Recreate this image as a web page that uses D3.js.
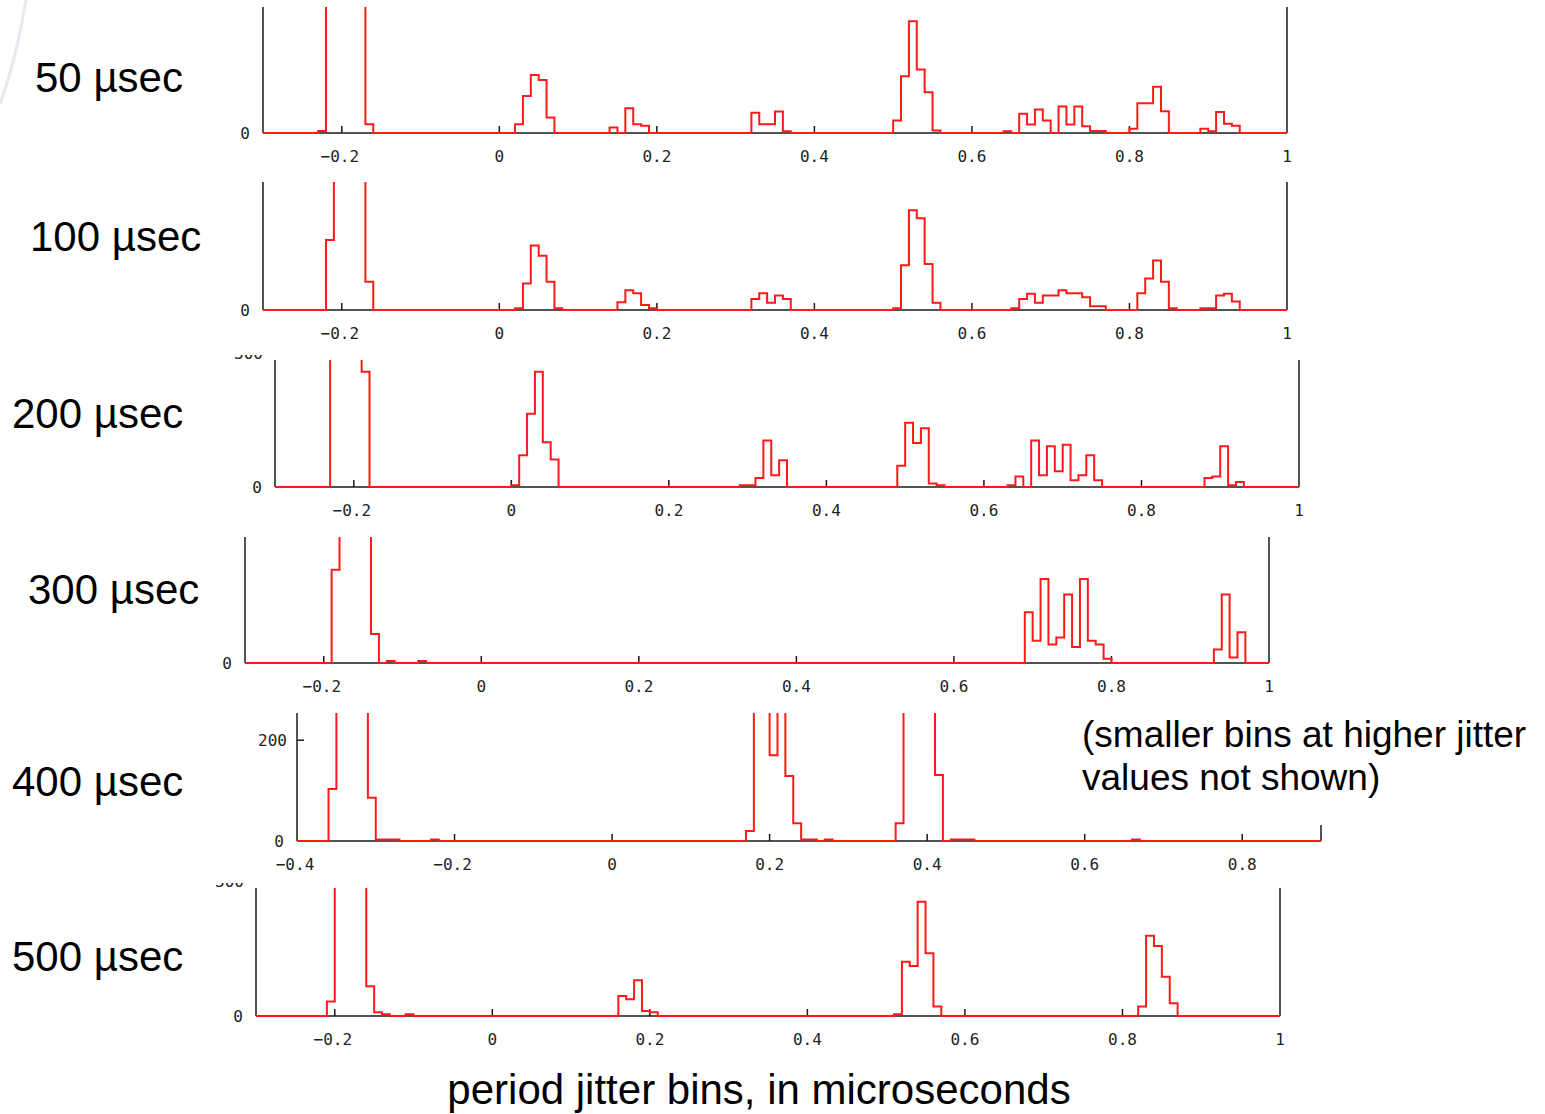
<!DOCTYPE html>
<html>
<head>
<meta charset="utf-8">
<script src="https://cdn.jsdelivr.net/npm/d3@7"></script>
<style>
  html, body { margin: 0; padding: 0; background: #fff; }
  svg { display: block; }
</style>
</head>
<body>
<svg id="chart" width="1545" height="1114"></svg>
<script>
// ---- data -------------------------------------------------------------
const panelLabels = ["50 µsec", "100 µsec", "200 µsec", "300 µsec", "400 µsec", "500 µsec"];
const axisTitle = "period jitter bins, in microseconds";
const noteLines = ["(smaller bins at higher jitter", "values not shown)"];

const binWidth = 0.01;
const xDomainStd = [-0.3, 1.0];
const xDomain400 = [-0.4, 0.9];
const xTicksStd = [-0.2, 0, 0.2, 0.4, 0.6, 0.8, 1];
const xTicks400 = [-0.4, -0.2, 0, 0.2, 0.4, 0.6, 0.8];
const yMaxStd = 300;
const yMax400 = 254;
const yTicks400 = [0, 200];

// histogram runs: [left edge of first bin, counts of consecutive 0.01 bins]
const hist50 = [
  [-0.23, [5, 620, 1480, 1350, 840, 410, 21]],
  [0.02, [21, 88, 138, 126, 37]],
  [0.14, [13, 0, 59, 21, 17]],
  [0.32, [48, 21, 21, 51, 4]],
  [0.50, [30, 135, 266, 151, 97, 6]],
  [0.64, [4, 0, 46, 20, 56, 30, 0, 63, 20, 63, 16, 5, 5]],
  [0.80, [10, 71, 71, 110, 52]],
  [0.89, [10, 4, 50, 22, 17]]
];
const hist100 = [
  [-0.22, [164, 700, 1500, 1300, 700, 66]],
  [0.02, [4, 62, 151, 127, 66, 4]],
  [0.15, [18, 46, 39, 12, 4]],
  [0.32, [26, 39, 17, 34, 26]],
  [0.50, [4, 105, 234, 215, 108, 17]],
  [0.65, [4, 26, 38, 17, 34, 34, 46, 39, 39, 30, 9, 9]],
  [0.81, [39, 74, 116, 66, 4]],
  [0.89, [4, 4, 34, 38, 20]]
];
const hist200 = [
  [-0.23, [900, 1500, 1300, 600, 272]],
  [0.00, [4, 75, 173, 272, 106, 65]],
  [0.29, [4, 4, 21, 110, 28, 63]],
  [0.49, [50, 152, 104, 139, 8, 4]],
  [0.63, [4, 25, 0, 110, 28, 96, 37, 100, 16, 28, 75, 16]],
  [0.88, [21, 25, 96, 4, 12]]
];
const hist300 = [
  [-0.19, [222, 900, 1400, 1200, 500, 69]],
  [-0.12, [5]],
  [-0.08, [5]],
  [0.69, [121, 53, 200, 44, 61, 163, 38, 200, 53, 44, 10]],
  [0.93, [32, 163, 13, 73]]
];
const hist400 = [
  [-0.36, [103, 900, 1500, 1300, 600, 86, 3, 3, 3]],
  [-0.23, [3]],
  [0.17, [20, 700, 900, 170, 800, 129, 35, 3, 3, 0, 3]],
  [0.36, [35, 900, 1400, 1300, 700, 131]],
  [0.43, [3, 3, 3]],
  [0.66, [3]]
];
const hist500 = [
  [-0.21, [34, 800, 1500, 1300, 600, 70, 9, 4]],
  [-0.11, [4]],
  [0.16, [47, 39, 84, 12, 9]],
  [0.51, [4, 127, 117, 268, 147, 22]],
  [0.82, [22, 188, 164, 92, 30]]
];

// ---- layout -----------------------------------------------------------
const panels = [
  { label: panelLabels[0], hist: hist50,  dom: xDomainStd, ticks: xTicksStd, yMax: yMaxStd, left: 263, right: 1287, top: 7,   base: 133, lx: 35, ly: 92 },
  { label: panelLabels[1], hist: hist100, dom: xDomainStd, ticks: xTicksStd, yMax: yMaxStd, left: 263, right: 1287, top: 182, base: 310, lx: 30, ly: 251 },
  { label: panelLabels[2], hist: hist200, dom: xDomainStd, ticks: xTicksStd, yMax: yMaxStd, left: 275, right: 1299, top: 360, base: 487, lx: 12, ly: 428, topLabel: true },
  { label: panelLabels[3], hist: hist300, dom: xDomainStd, ticks: xTicksStd, yMax: yMaxStd, left: 245, right: 1269, top: 537, base: 663, lx: 28, ly: 604 },
  { label: panelLabels[4], hist: hist400, dom: xDomain400, ticks: xTicks400, yMax: yMax400, left: 297, right: 1321, top: 713, base: 841, lx: 12, ly: 796, yTicks: yTicks400 },
  { label: panelLabels[5], hist: hist500, dom: xDomainStd, ticks: xTicksStd, yMax: yMaxStd, left: 256, right: 1280, top: 888, base: 1016, lx: 12, ly: 971, topLabel: true }
];

const svg = d3.select("#chart");
const defs = svg.append("defs");
const axisColor = "#1a1a1a";
const tickFont = "'DejaVu Sans Mono', 'Liberation Mono', monospace";
const textFont = "'Liberation Sans', Arial, Helvetica, sans-serif";

// faint decorative arc in the top-left corner of the slide
svg.append("path")
  .attr("d", "M 26 0 Q 16 60 0 104")
  .attr("fill", "none")
  .attr("stroke", "#e8e8f1")
  .attr("stroke-width", 3);

function stepPoints(runs, dom) {
  const counts = new Map();
  runs.forEach(([start, vals]) => {
    const k0 = Math.round(start / binWidth);
    vals.forEach((v, i) => counts.set(k0 + i, v));
  });
  const kStart = Math.round(dom[0] / binWidth);
  const kEnd = Math.round(dom[1] / binWidth);
  const pts = [];
  for (let k = kStart; k < kEnd; k++) pts.push([k * binWidth, counts.get(k) || 0]);
  pts.push([dom[1], 0]);
  return pts;
}

const fmt = v => (v < 0 ? "\u2212" : "") + (Math.abs(v) === 1 ? "1" : d3.format(".1~f")(Math.abs(v)));

panels.forEach((p, i) => {
  const x = d3.scaleLinear().domain(p.dom).range([p.left, p.right]);
  const y = d3.scaleLinear().domain([0, p.yMax]).range([p.base, p.top]);
  const g = svg.append("g").attr("class", "panel");

  // panel title on the left
  g.append("text")
    .attr("x", p.lx).attr("y", p.ly)
    .attr("font-family", textFont).attr("font-size", 42)
    .attr("fill", "#000")
    .text(p.label);

  // count label at the top of the scale, cut off by the panel edge
  if (p.topLabel) {
    const cid = "topclip" + i;
    defs.append("clipPath").attr("id", cid)
      .append("rect").attr("x", p.left - 60).attr("y", p.top - 5).attr("width", 60).attr("height", 20);
    g.append("text")
      .attr("clip-path", `url(#${cid})`)
      .attr("x", p.left - 12).attr("y", p.top - 1)
      .attr("text-anchor", "end")
      .attr("font-family", tickFont).attr("font-size", 16)
      .attr("fill", "#222")
      .text("300");
  }

  // x axis baseline and ticks
  g.append("line")
    .attr("x1", p.left).attr("x2", p.right)
    .attr("y1", p.base).attr("y2", p.base)
    .attr("stroke", axisColor).attr("stroke-width", 1.5);

  g.selectAll(".xtick").data(p.ticks.filter(t => t > p.dom[0] && t < p.dom[1])).join("line")
    .attr("x1", d => x(d)).attr("x2", d => x(d))
    .attr("y1", p.base).attr("y2", p.base - 7)
    .attr("stroke", axisColor).attr("stroke-width", 1.5);

  g.selectAll(".xlab").data(p.ticks).join("text")
    .attr("x", d => x(d) + (d < 0 ? -2 : 0)).attr("y", p.base + 29)
    .attr("text-anchor", "middle")
    .attr("font-family", tickFont).attr("font-size", 16)
    .attr("fill", "#222")
    .text(fmt);

  // y axis (left) and right frame line
  g.append("line")
    .attr("x1", p.left).attr("x2", p.left)
    .attr("y1", p.top).attr("y2", p.base)
    .attr("stroke", axisColor).attr("stroke-width", 1.5);
  g.append("line")
    .attr("x1", p.right).attr("x2", p.right)
    .attr("y1", p.top).attr("y2", p.base)
    .attr("stroke", axisColor).attr("stroke-width", 1.5);

  const yt = p.yTicks || [0];
  g.selectAll(".ytick").data(yt.filter(v => v > 0)).join("line")
    .attr("x1", p.left).attr("x2", p.left + 7)
    .attr("y1", d => y(d)).attr("y2", d => y(d))
    .attr("stroke", axisColor).attr("stroke-width", 1.5);
  g.selectAll(".ylab").data(yt).join("text")
    .attr("x", d => d === 0 ? p.left - 18 : p.left - 10)
    .attr("y", d => y(d) + 6)
    .attr("text-anchor", d => d === 0 ? "middle" : "end")
    .attr("font-family", tickFont).attr("font-size", 16)
    .attr("fill", "#222")
    .text(d => d);

  // histogram outline
  const cid = "clip" + i;
  defs.append("clipPath").attr("id", cid)
    .append("rect").attr("x", p.left - 1).attr("y", p.top)
    .attr("width", p.right - p.left + 2).attr("height", p.base - p.top + 4);

  const line = d3.line()
    .x(d => x(d[0])).y(d => y(d[1]))
    .curve(d3.curveStepAfter);

  g.append("path")
    .datum(stepPoints(p.hist, p.dom))
    .attr("clip-path", `url(#${cid})`)
    .attr("fill", "none")
    .attr("stroke", "#ff1a1a")
    .attr("stroke-width", 2)
    .attr("d", line);
});

// note box over the right side of the 400 µsec panel
svg.append("rect")
  .attr("x", 1072).attr("y", 705).attr("width", 473).attr("height", 120)
  .attr("fill", "#fff");
svg.append("g").selectAll("text").data(noteLines).join("text")
  .attr("x", 1082).attr("y", (d, i) => 747 + i * 43)
  .attr("font-family", textFont).attr("font-size", 37)
  .attr("fill", "#000")
  .text(d => d);

// axis title
svg.append("text")
  .attr("x", 759).attr("y", 1104)
  .attr("text-anchor", "middle")
  .attr("font-family", textFont).attr("font-size", 42)
  .attr("fill", "#000")
  .text(axisTitle);
</script>
</body>
</html>
